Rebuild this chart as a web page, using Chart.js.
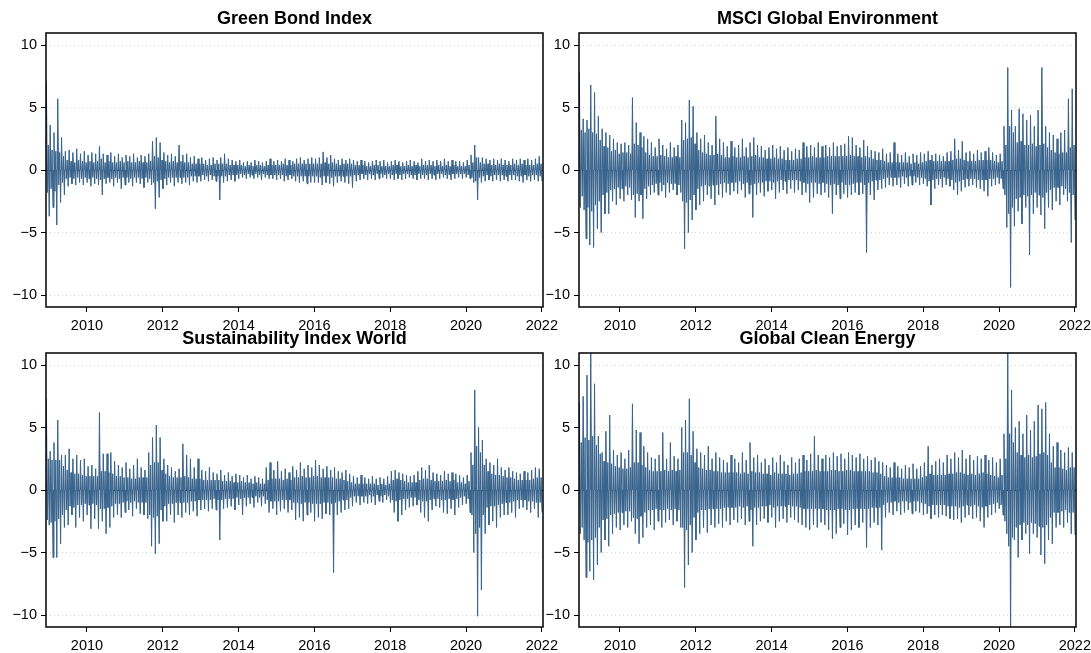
<!DOCTYPE html>
<html>
<head>
<meta charset="utf-8">
<script src="https://cdn.jsdelivr.net/npm/chart.js@4.4.1/dist/chart.umd.min.js"></script>
<style>
  html, body { margin: 0; padding: 0; background: #fff; overflow: hidden; width: 1091px; height: 653px; }
  canvas { position: absolute; }
</style>
</head>
<body>
<canvas id="c1" width="567" height="333" style="left:0px;top:0px"></canvas>
<canvas id="c2" width="567" height="333" style="left:533px;top:0px"></canvas>
<canvas id="c3" width="567" height="333" style="left:0px;top:320px"></canvas>
<canvas id="c4" width="567" height="333" style="left:533px;top:320px"></canvas>
<script>
const startYear = 2008.93;
const stepYears = 0.025;
const xTicks = [2010, 2012, 2014, 2016, 2018, 2020, 2022];
const yTicks = [-10, -5, 0, 5, 10];
const yTickLabels = ["\u221210", "\u22125", "0", "5", "10"];
const titles = ["Green Bond Index", "MSCI Global Environment", "Sustainability Index World", "Global Clean Energy"];

const greenBond = [
7.1,-1.8,2.0,-3.7, 3.6,-1.5,1.6,-3.0, 3.0,-1.7,1.5,-4.4, 5.7,-1.2,1.4,-2.6, 2.6,-1.0,1.1,-2.0,
1.5,-0.7,0.8,-1.3, 1.6,-0.6,0.7,-1.1, 1.4,-0.7,0.6,-1.2, 1.7,-0.6,0.8,-1.0, 1.3,-0.7,0.7,-1.2,
1.5,-0.6,0.6,-1.0, 1.2,-0.7,0.7,-1.3, 1.4,-0.6,0.6,-1.1, 1.3,-0.7,0.7,-1.2, 1.9,-0.8,0.9,-2.0,
1.3,-0.7,0.6,-1.1, 1.2,-0.6,0.7,-1.0, 1.4,-0.7,0.6,-1.3, 1.1,-0.6,0.6,-1.0, 1.3,-0.7,0.7,-1.5,
1.0,-0.6,0.6,-1.2, 1.2,-0.6,0.7,-1.0, 1.1,-0.7,0.6,-1.3, 1.3,-0.6,0.6,-1.0, 1.0,-0.6,0.7,-1.1,
1.2,-0.7,0.6,-1.4, 1.1,-0.6,0.6,-1.0, 1.3,-0.7,0.7,-1.2, 2.3,-1.0,1.1,-3.1, 2.6,-0.9,1.0,-2.2,
2.2,-0.8,0.8,-1.5, 1.4,-0.7,0.7,-1.2, 1.2,-0.6,0.6,-1.0, 1.3,-0.6,0.7,-1.3, 1.1,-0.6,0.6,-1.0,
2.0,-0.6,0.7,-1.1, 1.2,-0.6,0.6,-1.0, 1.3,-0.6,0.6,-1.2, 1.0,-0.5,0.5,-0.9, 1.1,-0.5,0.5,-1.0,
0.9,-0.5,0.5,-0.9, 1.0,-0.4,0.5,-0.8, 0.8,-0.5,0.4,-0.9, 0.9,-0.4,0.4,-0.8, 1.0,-0.5,0.5,-0.9,
0.8,-0.5,0.5,-2.4, 1.0,-0.5,0.5,-1.0, 1.3,-0.5,0.5,-0.9, 0.9,-0.4,0.4,-0.8, 0.8,-0.4,0.4,-0.9,
0.7,-0.4,0.4,-0.7, 0.8,-0.3,0.4,-0.6, 0.6,-0.4,0.3,-0.7, 0.7,-0.3,0.4,-0.6, 0.6,-0.4,0.3,-0.7,
0.8,-0.3,0.4,-0.6, 0.7,-0.4,0.4,-0.8, 0.6,-0.3,0.3,-0.6, 0.7,-0.4,0.4,-0.7, 0.9,-0.4,0.4,-0.7,
0.7,-0.4,0.4,-0.8, 0.8,-0.4,0.4,-0.7, 0.7,-0.4,0.5,-0.9, 0.9,-0.5,0.4,-0.8, 0.8,-0.4,0.4,-0.7,
0.7,-0.5,0.5,-0.9, 0.9,-0.5,0.5,-1.0, 1.0,-0.5,0.5,-0.9, 0.8,-0.5,0.5,-1.1, 0.9,-0.5,0.5,-1.0,
1.0,-0.5,0.5,-1.0, 0.9,-0.5,0.5,-1.0, 1.0,-0.6,0.5,-1.2, 1.45,-0.5,0.6,-1.0, 1.0,-0.5,0.5,-1.1,
1.2,-0.6,0.6,-1.3, 0.9,-0.5,0.5,-1.0, 0.8,-0.5,0.4,-0.9, 0.9,-0.5,0.5,-1.0, 0.8,-0.5,0.5,-1.1,
0.9,-0.5,0.5,-1.4, 0.8,-0.4,0.4,-0.9, 0.7,-0.4,0.4,-0.8, 0.8,-0.3,0.4,-0.7, 0.7,-0.4,0.3,-0.8,
0.6,-0.3,0.3,-0.7, 0.7,-0.4,0.4,-0.8, 0.8,-0.3,0.4,-0.7, 0.7,-0.3,0.3,-0.6, 0.8,-0.4,0.3,-0.7,
0.6,-0.3,0.3,-0.7, 0.7,-0.4,0.4,-0.8, 0.8,-0.3,0.4,-0.7, 0.7,-0.4,0.3,-0.8, 0.6,-0.3,0.3,-0.7,
0.7,-0.3,0.4,-0.6, 0.8,-0.4,0.3,-0.7, 0.7,-0.4,0.4,-0.8, 0.6,-0.3,0.3,-0.7, 0.9,-0.4,0.4,-0.7,
0.7,-0.4,0.4,-0.8, 0.8,-0.3,0.4,-0.7, 0.7,-0.4,0.3,-0.8, 0.8,-0.3,0.4,-0.7, 0.7,-0.3,0.3,-0.6,
0.9,-0.4,0.4,-0.7, 0.7,-0.4,0.3,-0.8, 0.8,-0.3,0.4,-0.7, 0.7,-0.3,0.3,-0.6, 0.7,-0.3,0.3,-0.7,
0.6,-0.3,0.3,-0.6, 0.8,-0.4,0.4,-0.7, 1.2,-0.6,0.6,-1.0, 2.0,-0.9,1.0,-2.4, 1.0,-0.6,0.6,-1.0,
1.0,-0.5,0.5,-0.9, 0.9,-0.4,0.5,-0.8, 0.8,-0.5,0.4,-0.9, 0.9,-0.4,0.4,-0.8, 0.8,-0.4,0.5,-0.9,
0.9,-0.4,0.4,-0.8, 0.8,-0.5,0.4,-0.9, 0.7,-0.4,0.4,-0.8, 0.9,-0.4,0.5,-0.8, 0.8,-0.5,0.4,-0.9,
0.9,-0.5,0.5,-1.0, 0.8,-0.4,0.4,-0.8, 0.9,-0.5,0.4,-0.9, 0.8,-0.4,0.4,-0.8, 0.9,-0.4,0.5,-0.9,
1.1,-0.5,0.5,-0.9
];

const msciEnvironment = [
7.8,-3.0,3.2,-2.1, 4.1,-3.2,3.0,-5.5, 4.0,-3.0,3.3,-6.0, 6.8,-3.3,3.0,-6.2, 6.2,-2.8,2.9,-4.7,
4.3,-2.5,2.4,-5.0, 3.3,-2.0,1.9,-3.5, 3.0,-1.8,1.8,-3.5, 2.8,-1.6,1.5,-2.5, 2.5,-1.5,1.6,-2.8,
2.2,-1.4,1.3,-2.3, 2.1,-1.5,1.4,-2.5, 2.2,-1.3,1.4,-2.0, 2.0,-1.4,1.3,-2.4, 5.8,-2.0,2.1,-3.8,
3.8,-1.9,2.0,-2.5, 3.0,-2.0,1.8,-3.9, 2.7,-1.5,1.4,-2.3, 2.5,-1.3,1.2,-2.0, 2.2,-1.2,1.1,-1.8,
1.8,-1.1,1.1,-2.0, 2.5,-1.0,1.2,-1.7, 2.0,-1.2,1.1,-2.2, 1.7,-1.0,1.0,-1.8, 2.2,-1.1,1.0,-1.6,
1.8,-1.1,1.1,-2.0, 2.0,-1.2,1.0,-1.8, 4.0,-2.5,2.4,-6.3, 3.8,-2.6,2.5,-5.0, 5.6,-2.4,2.6,-4.0,
5.1,-2.0,2.1,-3.2, 3.0,-1.5,1.6,-2.8, 2.5,-1.3,1.4,-2.5, 2.8,-1.2,1.3,-2.0, 2.2,-1.3,1.2,-2.3,
2.0,-1.2,1.2,-2.8, 4.3,-1.2,1.3,-2.0, 2.5,-1.1,1.2,-2.2, 2.2,-1.0,1.0,-1.8, 1.9,-1.1,1.0,-2.0,
2.3,-1.0,1.1,-1.7, 1.8,-1.0,1.0,-1.9, 2.0,-0.9,1.0,-1.6, 2.5,-1.1,1.1,-2.2, 1.8,-1.0,1.0,-1.9,
2.2,-1.2,1.1,-3.8, 2.6,-1.1,1.2,-2.0, 2.0,-1.0,1.0,-1.8, 1.9,-1.0,1.0,-2.1, 1.6,-0.9,0.9,-1.7,
1.8,-0.9,0.9,-1.6, 2.0,-1.0,1.0,-2.3, 1.7,-0.9,0.9,-1.8, 1.9,-0.8,0.9,-1.6, 1.6,-0.9,0.8,-1.9,
1.8,-0.8,0.8,-1.5, 1.5,-0.8,0.8,-1.8, 1.7,-0.8,0.9,-1.6, 1.6,-0.9,0.9,-2.0, 2.2,-1.0,1.0,-1.8,
1.9,-1.1,1.0,-2.6, 2.0,-1.0,1.1,-2.2, 1.8,-1.0,1.0,-1.9, 2.2,-1.1,1.0,-2.0, 1.9,-1.0,1.0,-1.8,
2.0,-1.1,1.1,-2.2, 1.8,-1.2,1.1,-3.5, 2.2,-1.1,1.1,-2.0, 1.9,-1.2,1.1,-2.3, 2.0,-1.0,1.1,-1.9,
2.1,-1.2,1.1,-2.2, 2.7,-1.2,1.2,-2.0, 2.6,-1.1,1.1,-1.8, 2.0,-1.0,1.1,-2.0, 1.8,-1.0,1.0,-1.9,
2.4,-1.2,1.1,-6.6, 1.9,-1.0,1.0,-2.0, 1.6,-0.9,0.9,-2.4, 1.5,-0.8,0.8,-1.6, 1.4,-0.8,0.8,-1.5,
1.7,-0.7,0.7,-1.4, 1.3,-0.6,0.6,-1.2, 1.4,-0.6,0.6,-1.3, 2.2,-0.6,0.6,-1.2, 1.3,-0.6,0.6,-1.4,
1.2,-0.5,0.6,-1.1, 1.4,-0.6,0.6,-1.3, 1.1,-0.5,0.5,-1.2, 1.3,-0.5,0.6,-1.0, 1.2,-0.6,0.5,-1.2,
1.4,-0.6,0.6,-1.1, 1.3,-0.7,0.7,-1.3, 1.5,-0.9,0.8,-2.8, 1.2,-0.8,0.7,-1.5, 1.3,-0.7,0.7,-1.2,
1.2,-0.7,0.7,-1.4, 1.1,-0.6,0.7,-1.2, 1.4,-0.7,0.7,-1.3, 1.5,-0.8,0.8,-1.6, 2.5,-1.0,0.9,-2.0,
1.6,-0.9,0.9,-1.7, 2.3,-0.8,0.8,-1.4, 1.4,-0.7,0.7,-1.3, 1.5,-0.7,0.7,-1.2, 1.3,-0.7,0.7,-1.4,
1.6,-0.8,0.8,-1.5, 1.4,-0.8,0.8,-1.7, 1.5,-0.8,0.8,-2.1, 1.8,-0.7,0.8,-1.3, 1.4,-0.7,0.7,-1.2,
1.2,-0.6,0.6,-1.1, 1.3,-0.7,0.7,-1.5, 3.5,-2.0,2.0,-4.6, 8.2,-3.5,3.5,-9.4, 4.8,-3.0,3.0,-4.5,
3.5,-2.3,2.2,-3.3, 4.9,-2.2,2.3,-4.3, 4.5,-2.0,2.0,-3.0, 4.0,-2.1,2.0,-6.8, 4.4,-2.0,2.1,-3.5,
3.5,-1.8,1.9,-3.0, 4.8,-2.0,2.0,-3.6, 8.2,-2.2,2.1,-4.7, 3.5,-1.8,1.8,-3.0, 3.0,-1.6,1.6,-3.2,
2.8,-1.4,1.4,-2.5, 2.5,-1.4,1.3,-2.8, 3.0,-1.3,1.4,-2.0, 3.2,-1.5,1.4,-2.5, 5.7,-1.8,1.8,-5.8,
6.5,-2.0,2.0,-4.0
];

const sustainabilityWorld = [
7.3,-2.4,2.5,-2.8, 3.1,-2.6,2.4,-5.4, 3.8,-2.5,2.4,-5.4, 5.6,-2.3,2.4,-4.3, 2.8,-2.0,1.9,-3.0,
2.8,-1.6,1.6,-2.8, 3.3,-1.3,1.4,-2.0, 2.5,-1.4,1.3,-3.0, 2.8,-1.2,1.3,-2.2, 2.4,-1.2,1.2,-2.5,
2.5,-1.1,1.1,-2.0, 1.9,-1.2,1.1,-3.1, 2.0,-1.1,1.1,-2.3, 1.7,-1.2,1.1,-3.1, 6.2,-1.5,1.5,-2.5,
2.9,-1.5,1.5,-3.5, 2.9,-1.4,1.4,-3.0, 3.0,-1.3,1.3,-2.2, 2.3,-1.1,1.1,-2.0, 2.0,-1.1,1.1,-2.2,
1.8,-1.0,1.0,-1.8, 2.2,-0.9,1.0,-1.6, 1.7,-1.0,0.9,-2.1, 2.0,-0.9,0.9,-1.5, 2.5,-1.0,1.0,-1.9,
1.8,-1.0,1.0,-2.0, 1.6,-1.0,1.0,-2.3, 3.0,-2.0,2.0,-4.5, 4.2,-2.2,2.2,-5.1, 5.2,-2.1,2.2,-4.3,
4.2,-1.6,1.6,-2.5, 2.5,-1.3,1.3,-2.5, 2.0,-1.1,1.1,-2.0, 1.8,-1.1,1.0,-2.6, 1.5,-1.0,1.0,-2.0,
1.7,-1.0,1.0,-2.2, 3.7,-1.0,1.1,-1.8, 2.8,-1.0,1.0,-2.0, 2.5,-0.9,0.9,-1.7, 1.8,-0.9,0.9,-2.1,
2.5,-0.8,0.9,-1.6, 1.6,-0.8,0.8,-1.5, 1.5,-0.8,0.8,-1.7, 1.8,-0.8,0.8,-1.5, 1.4,-0.7,0.8,-1.6,
1.3,-0.8,0.8,-4.0, 1.6,-0.8,0.7,-1.5, 1.2,-0.7,0.7,-1.4, 1.4,-0.7,0.7,-1.3, 1.1,-0.7,0.6,-1.6,
1.3,-0.6,0.6,-1.2, 1.2,-0.7,0.7,-2.0, 1.0,-0.6,0.6,-1.3, 1.2,-0.6,0.6,-1.1, 0.9,-0.6,0.5,-1.4,
1.1,-0.5,0.6,-1.0, 1.0,-0.6,0.5,-1.3, 0.9,-0.5,0.5,-1.1, 1.8,-0.8,0.8,-1.8, 2.2,-0.9,0.9,-1.5,
1.6,-0.9,0.9,-2.0, 2.3,-0.9,0.9,-1.7, 1.5,-0.8,0.8,-1.5, 1.7,-0.8,0.9,-1.8, 1.4,-0.8,0.8,-1.6,
1.9,-1.0,1.0,-2.4, 1.6,-1.0,1.0,-2.2, 2.2,-1.1,1.1,-2.5, 1.7,-1.0,1.0,-2.0, 2.0,-1.0,1.0,-1.8,
1.8,-1.1,1.1,-2.5, 2.4,-1.1,1.1,-2.2, 2.0,-1.1,1.0,-2.3, 1.7,-1.0,1.0,-1.9, 1.9,-1.0,1.0,-2.0,
1.6,-1.1,1.0,-6.6, 1.8,-1.0,0.9,-2.0, 1.5,-0.9,0.9,-1.8, 1.4,-0.8,0.8,-1.6, 1.6,-0.8,0.7,-1.5,
1.3,-0.6,0.6,-1.3, 1.1,-0.5,0.5,-1.0, 1.0,-0.5,0.5,-1.2, 1.2,-0.5,0.5,-1.0, 1.0,-0.5,0.5,-1.1,
0.9,-0.4,0.5,-1.0, 1.1,-0.5,0.5,-1.2, 0.9,-0.4,0.4,-0.9, 1.0,-0.5,0.5,-1.0, 0.9,-0.4,0.4,-0.8,
1.1,-0.5,0.5,-1.0, 1.5,-0.8,0.8,-1.8, 1.6,-0.9,0.9,-2.5, 1.4,-0.8,0.8,-2.0, 1.3,-0.7,0.7,-1.6,
1.2,-0.7,0.6,-1.4, 1.1,-0.6,0.6,-1.3, 1.2,-0.6,0.6,-1.2, 1.5,-0.8,0.8,-1.8, 1.8,-0.9,0.9,-2.2,
1.6,-0.9,0.9,-2.5, 2.0,-0.8,0.8,-1.6, 1.4,-0.7,0.7,-1.3, 1.3,-0.7,0.7,-1.4, 1.2,-0.8,0.7,-1.8,
1.5,-0.8,0.8,-1.9, 1.3,-0.7,0.7,-1.5, 1.4,-0.8,0.8,-2.0, 1.3,-0.7,0.6,-1.4, 1.2,-0.6,0.6,-1.2,
1.0,-0.5,0.5,-1.1, 1.2,-0.7,0.7,-1.8, 3.0,-2.0,2.0,-5.0, 8.0,-3.5,3.5,-10.1, 5.0,-3.0,3.0,-8.0,
4.0,-2.0,2.0,-3.5, 2.5,-1.4,1.5,-2.8, 2.2,-1.3,1.3,-2.5, 2.0,-1.3,1.2,-3.0, 2.5,-1.2,1.2,-2.2,
1.8,-1.1,1.1,-2.0, 1.6,-1.0,1.0,-2.0, 1.8,-1.0,1.0,-1.8, 1.5,-0.9,0.9,-2.2, 1.4,-0.8,0.8,-1.5,
1.3,-0.8,0.8,-1.4, 1.5,-0.8,0.8,-1.6, 1.4,-0.9,0.8,-1.8, 1.6,-0.9,0.9,-1.5, 1.8,-1.0,1.0,-2.2,
1.7,-1.0,1.0,-1.8
];

const cleanEnergy = [
7.0,-3.5,3.8,-3.0, 7.5,-4.0,4.2,-7.0, 9.2,-4.2,4.0,-6.5, 12,-4.0,4.3,-7.2, 8.5,-3.8,3.6,-6.0,
4.3,-3.0,2.9,-5.0, 3.0,-2.4,2.3,-4.0, 4.7,-2.3,2.2,-4.5, 6.0,-2.0,2.1,-3.5, 3.2,-1.9,1.9,-3.0,
2.8,-1.8,1.8,-3.2, 3.0,-1.8,1.7,-2.8, 2.5,-1.7,1.7,-3.0, 3.2,-1.7,1.8,-2.5, 6.9,-2.2,2.2,-3.5,
4.8,-2.3,2.2,-4.3, 4.6,-2.1,2.0,-3.8, 3.5,-1.8,1.8,-3.0, 3.0,-1.6,1.6,-2.8, 2.6,-1.6,1.5,-3.2,
2.5,-1.5,1.5,-2.5, 2.8,-1.6,1.5,-3.0, 4.6,-1.6,1.6,-2.6, 2.5,-1.5,1.5,-2.4, 3.8,-1.6,1.6,-2.8,
2.7,-1.5,1.5,-2.5, 2.5,-1.6,1.6,-3.0, 5.0,-3.0,3.0,-7.8, 5.6,-3.2,3.0,-6.0, 7.3,-2.8,2.8,-5.0,
4.7,-2.2,2.2,-4.0, 3.3,-1.8,1.8,-3.5, 3.0,-1.6,1.7,-3.0, 2.8,-1.6,1.6,-3.4, 3.5,-1.5,1.6,-2.8,
2.5,-1.5,1.5,-3.0, 3.0,-1.5,1.5,-2.7, 2.6,-1.5,1.4,-3.0, 2.4,-1.4,1.4,-2.5, 2.2,-1.4,1.4,-2.8,
2.8,-1.4,1.4,-2.4, 2.5,-1.4,1.4,-2.6, 2.2,-1.3,1.3,-2.3, 3.0,-1.4,1.4,-2.8, 2.4,-1.3,1.3,-2.5,
3.8,-1.6,1.5,-4.5, 2.6,-1.4,1.4,-2.8, 2.8,-1.4,1.4,-2.5, 2.2,-1.3,1.3,-2.3, 2.5,-1.3,1.3,-2.6,
2.0,-1.2,1.2,-2.2, 2.6,-1.4,1.4,-3.0, 2.2,-1.3,1.3,-2.5, 2.8,-1.3,1.3,-2.3, 2.3,-1.3,1.3,-2.6,
2.0,-1.2,1.2,-2.2, 2.6,-1.3,1.3,-2.4, 2.2,-1.3,1.3,-2.6, 2.5,-1.4,1.4,-2.8, 2.8,-1.5,1.5,-3.0,
2.4,-1.5,1.5,-3.2, 2.9,-1.5,1.5,-2.8, 4.3,-1.5,1.6,-3.0, 2.8,-1.5,1.5,-2.6, 2.5,-1.5,1.5,-2.8,
2.8,-1.6,1.5,-3.2, 2.6,-1.6,1.6,-3.9, 3.0,-1.6,1.6,-3.5, 2.7,-1.5,1.5,-3.0, 2.9,-1.5,1.5,-2.7,
2.5,-1.6,1.6,-3.6, 3.0,-1.6,1.6,-3.2, 2.8,-1.5,1.5,-2.8, 2.6,-1.5,1.5,-3.0, 2.9,-1.5,1.5,-2.6,
2.5,-1.5,1.5,-4.6, 2.7,-1.5,1.5,-3.0, 2.4,-1.4,1.4,-2.6, 2.6,-1.4,1.4,-2.8, 2.3,-1.4,1.3,-4.8,
2.2,-1.2,1.1,-2.2, 2.0,-1.0,1.0,-1.8, 1.8,-1.0,1.0,-2.0, 2.2,-0.9,1.0,-1.7, 1.9,-1.0,1.0,-2.0,
1.7,-0.9,0.9,-1.8, 2.0,-0.9,0.9,-1.6, 1.8,-1.0,0.9,-1.9, 2.1,-0.9,0.9,-1.7, 1.7,-0.9,0.9,-1.8,
1.9,-1.0,1.0,-2.0, 2.2,-1.1,1.1,-1.9, 3.5,-1.3,1.3,-2.3, 2.0,-1.2,1.2,-2.0, 2.3,-1.2,1.2,-2.2,
2.5,-1.2,1.2,-2.0, 2.2,-1.2,1.2,-2.1, 2.8,-1.3,1.3,-2.3, 2.5,-1.3,1.3,-2.4, 3.0,-1.3,1.4,-2.3,
2.6,-1.4,1.4,-2.6, 3.2,-1.3,1.3,-2.2, 2.5,-1.2,1.2,-2.0, 2.8,-1.3,1.3,-2.3, 2.4,-1.2,1.2,-2.2,
2.7,-1.3,1.3,-2.5, 2.5,-1.4,1.4,-3.0, 2.8,-1.3,1.3,-2.2, 2.4,-1.2,1.2,-2.0, 2.6,-1.1,1.1,-1.8,
2.2,-1.0,1.0,-1.5, 2.5,-1.2,1.2,-2.0, 4.5,-2.5,2.5,-3.5, 12,-4.5,4.5,-12, 8.0,-3.8,3.8,-4.0,
5.0,-3.0,3.0,-5.4, 5.5,-2.8,2.8,-4.0, 4.5,-2.6,2.6,-3.5, 6.0,-2.8,2.8,-5.1, 4.8,-2.6,2.6,-3.5,
5.5,-2.7,2.7,-3.8, 6.8,-2.9,2.9,-5.2, 6.5,-3.0,3.0,-5.9, 7.0,-2.8,2.8,-4.0, 4.5,-2.2,2.2,-4.3,
3.5,-1.8,1.8,-3.0, 3.8,-1.8,1.8,-2.8, 3.2,-1.7,1.7,-3.0, 3.0,-1.6,1.6,-2.6, 3.4,-1.8,1.8,-3.5,
3.0,-1.8,1.8,-3.6
];

// ---- styling ----
const FONT = '"Liberation Sans", Arial, Helvetica, sans-serif';
const LINE_COLOR = '#37628b';
const X_MIN = 2008.92, X_MAX = 2022.03;
const Y_MIN = -10.96, Y_MAX = 10.96;

const framePlugin = {
  id: 'frame',
  afterDraw(chart) {
    const a = chart.chartArea, ctx = chart.ctx;
    ctx.save();
    ctx.strokeStyle = '#000';
    ctx.lineWidth = 1.5;
    ctx.strokeRect(a.left, a.top, a.right - a.left, a.bottom - a.top);
    ctx.restore();
  }
};

function makeChart(id, title, values) {
  const pts = values.map((v, i) => ({ x: startYear + i * stepYears, y: v }));
  return new Chart(document.getElementById(id), {
    type: 'line',
    data: { datasets: [{ data: pts, borderColor: LINE_COLOR, backgroundColor: LINE_COLOR, borderWidth: 1.0,
                         pointRadius: 0, tension: 0, fill: 'origin' }] },
    options: {
      responsive: false, animation: false, devicePixelRatio: 1,
      parsing: false, normalized: true,
      layout: { padding: { left: 0, right: 24, top: 0, bottom: 0 } },
      plugins: {
        legend: { display: false }, tooltip: { enabled: false },
        title: { display: true, text: title, fullSize: false, color: '#000',
                 font: { family: FONT, size: 18, weight: 'bold', lineHeight: 1.2 },
                 padding: { top: 8.7, bottom: 2.7 } }
      },
      scales: {
        x: {
          type: 'linear', min: X_MIN, max: X_MAX,
          afterBuildTicks: s => { s.ticks = xTicks.map(v => ({ value: v })); },
          afterFit: s => { s.height = 26; },
          ticks: { color: '#000', font: { family: FONT, size: 14.5 }, padding: 5, maxRotation: 0, autoSkip: false,
                   callback: (v, i) => String(xTicks[i]) },
          grid: { drawOnChartArea: false, drawTicks: true, tickLength: 5, tickColor: '#000', tickWidth: 1 },
          border: { display: false }
        },
        y: {
          type: 'linear', min: Y_MIN, max: Y_MAX, z: 1,
          afterBuildTicks: s => { s.ticks = yTicks.map(v => ({ value: v })); },
          afterFit: s => { s.width = 46; },
          ticks: { color: '#000', font: { family: FONT, size: 14.5 }, padding: 4, autoSkip: false,
                   callback: (v, i) => yTickLabels[i] },
          grid: { drawOnChartArea: true, drawTicks: true, tickLength: 5, tickColor: '#000', tickWidth: 1,
                  tickBorderDash: [], lineWidth: 1,
                  color: ctx => (ctx.tick && ctx.tick.value === 0) ? '#000' : '#d4d4d4' },
          border: { display: false, dash: [1, 3] }
        }
      }
    },
    plugins: [framePlugin]
  });
}

makeChart('c1', titles[0], greenBond);
makeChart('c2', titles[1], msciEnvironment);
makeChart('c3', titles[2], sustainabilityWorld);
makeChart('c4', titles[3], cleanEnergy);
</script>
</body>
</html>
